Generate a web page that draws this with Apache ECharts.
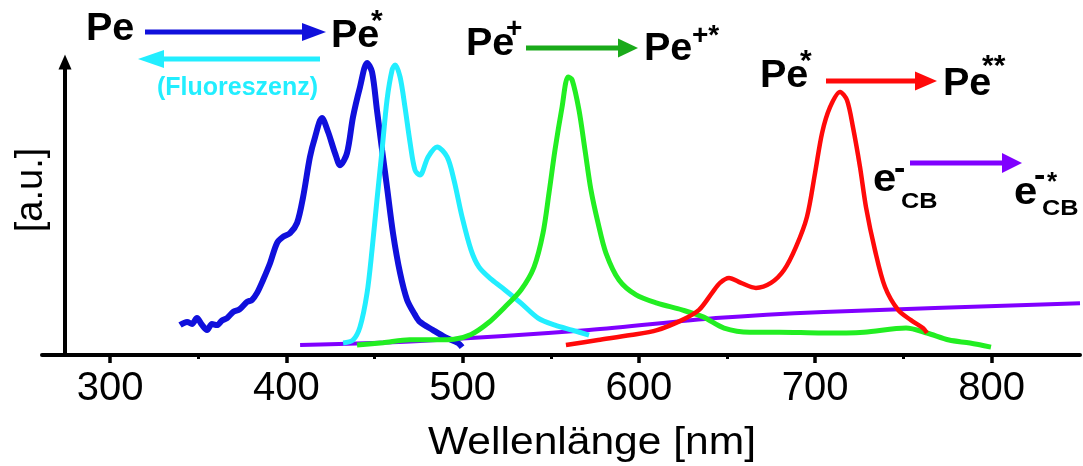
<!DOCTYPE html>
<html>
<head>
<meta charset="utf-8">
<script src="https://cdn.jsdelivr.net/npm/echarts@6/dist/echarts.min.js"></script>
<style>
html,body{margin:0;padding:0;background:#fff;}
#chart{width:1083px;height:466px;}
</style>
</head>
<body>
<div id="chart"></div>
<script>
// ---- data (wavelength nm, intensity a.u.) ----
const xTicks = [300, 400, 500, 600, 700, 800];
const xMinorTicks = [350, 450, 550, 650, 750];

const absPe = [
  [339.7,10.2],[343.7,11.3],[346.5,10.6],[349.3,12.6],[352.0,10.4],[355.0,8.5],[357.8,10.6],[360.7,10.2],
  [363.5,11.8],[366.4,12.6],[369.8,14.7],[373.5,15.6],
  [377.7,18.1],[380.5,18.8],[383.4,21.2],[386.8,25.6],[390.8,31.4],[394.7,38.2],[398.1,40.3],[402.1,41.6],
  [406.1,45.1],[409.5,53.9],[413.4,67.6],[416.3,74.4],[420.2,80.9],[423.7,76.1],[427.6,68.9],
  [430.5,64.8],[434.4,68.9],[437.8,81.2],[441.8,91.5],[445.8,99.7],[448.6,96.6],[451.4,83.6],
  [454.3,70.0],[457.1,57.3],[460.5,41.6],[464.5,28.0],[468.5,18.8],[473.0,13.7],[475.8,11.3],
  [483.2,8.5],[490.0,6.1],[497.4,4.1],[499.7,2.7]
];
const fluorPe = [
  [432.2,4.1],[437.8,5.1],[441.8,9.6],[445.8,21.2],[448.6,35.8],[451.4,52.9],[454.3,70.0],
  [457.1,87.0],[460.0,97.3],[461.7,99.0],[464.5,94.9],[467.3,84.6],[470.2,72.4],[473.0,63.1],
  [475.8,61.4],[480.4,67.6],[485.5,71.0],[491.2,67.6],[495.1,59.7],[499.7,47.1],[504.8,35.8],
  [509.3,30.0],[516.7,25.6],[524.0,22.2],[533.1,17.7],[542.8,12.6],[552.4,10.2],[562.1,8.5],
  [571.7,6.8]
];
const absPeCation = [
  [440.1,3.4],[454.9,4.2],[470.0,5.2],[485.5,5.2],[495.1,5.4],[504.8,7.0],[514.4,10.9],
  [524.0,16.4],[533.1,22.2],[540.5,30.0],[545.6,41.6],[549.0,55.3],[552.4,70.0],[556.4,84.6],
  [559.8,94.9],[562.1,93.9],[566.0,83.6],[569.4,70.0],[572.8,56.3],[576.8,45.1],[581.3,34.8],
  [588.7,25.6],[598.4,20.5],[610.3,17.7],[624.4,15.4],[636.4,13.0],[648.3,9.2],[663.0,7.8],
  [679.5,7.8],[703.9,7.5],[727.7,7.8],[751.5,9.2],[763.4,7.5],[775.9,5.1],[787.8,4.1],[799.7,2.7]
];
const absPeExcited = [
  [558.6,3.4],[576.8,5.1],[595.5,6.8],[610.3,8.5],[624.4,11.9],[634.1,15.4],[641.5,21.2],
  [646.0,24.6],[651.1,26.3],[657.9,24.6],[666.4,22.9],[674.9,24.6],[682.3,29.0],[689.1,36.9],
  [695.3,47.1],[699.9,62.1],[703.9,75.8],[708.4,84.6],[714.1,89.8],[718.0,87.0],[721.4,77.8],
  [725.4,64.2],[728.8,50.5],[733.9,35.8],[739.6,23.2],[747.0,15.4],[754.3,11.9],[761.1,9.2],
  [763.4,7.5]
];
const absElectron = [
  [407.8,3.4],[475.8,4.8],[571.7,8.5],[643.7,12.6],[704.9,14.7],[850.2,17.7]
];

const FONT = "'Liberation Sans', Arial, sans-serif";
const BLUE = '#1010dc', CYAN = '#22eeff', GREEN = '#22ee22', GREEN_ARROW = '#1aaa1a',
      RED = '#ff0a0a', PURPLE = '#8000ff';

function txt(text, x, y, size, color, opts) {
  opts = opts || {};
  return {
    type: 'text', x: x, y: y, z: 100,
    rotation: opts.rotation || 0,
    scaleX: opts.scaleX || 1,
    style: {
      text: text, fill: color || '#000',
      fontSize: size, fontWeight: opts.weight || 'bold', fontFamily: FONT,
      align: opts.align || 'left', textAlign: opts.align || 'left',
      verticalAlign: 'middle', textVerticalAlign: 'middle'
    }
  };
}
function arrow(x1, y, x2, headLen, headH, color, w) {
  const dir = x2 > x1 ? 1 : -1;
  const base = x2 - dir * headLen;
  return [
    {type: 'line', z: 100, shape: {x1: x1, y1: y, x2: base, y2: y}, style: {stroke: color, lineWidth: w}},
    {type: 'polygon', z: 100, shape: {points: [[base, y - headH / 2], [x2, y], [base, y + headH / 2]]}, style: {fill: color}}
  ];
}

const graphics = [].concat(
  [txt('[a.u.]', 32, 190, 38, '#000', {weight: 'normal', rotation: Math.PI / 2, align: 'center'})],
  [txt('Wellenlänge [nm]', 592, 444, 38, '#000', {weight: 'normal', align: 'center', scaleX: 1.12})],
  // Pe -> Pe*
  [txt('Pe', 86, 30, 38, '#000', {scaleX: 1.04})],
  arrow(145, 32, 326, 24, 18, BLUE, 5),
  [txt('Pe', 331, 37, 38, '#000', {scaleX: 1.04}), txt('*', 371, 22, 30)],
  arrow(320, 59, 138, 26, 18, CYAN, 5),
  [txt('(Fluoreszenz)', 157, 88, 25, CYAN)],
  // Pe+ -> Pe+*
  [txt('Pe', 466, 45, 38, '#000', {scaleX: 1.04}), txt('+', 506, 29, 28)],
  arrow(526, 48, 638, 20, 19, GREEN_ARROW, 5),
  [txt('Pe', 644, 50, 38, '#000', {scaleX: 1.04}), txt('+*', 692, 36, 28)],
  // Pe* -> Pe**
  [txt('Pe', 760, 77, 38, '#000', {scaleX: 1.04}), txt('*', 800, 62, 30)],
  arrow(826, 81, 937, 22, 19, RED, 5),
  [txt('Pe', 943, 85, 38, '#000', {scaleX: 1.04}), txt('**', 982, 67, 30)],
  // e-CB -> e-*CB
  arrow(910, 163, 1022, 20, 20, PURPLE, 5),
  [txt('e', 873, 181, 38, '#000', {scaleX: 1.1}), txt('-', 894, 170, 34),
   txt('CB', 901, 202, 22, '#000', {scaleX: 1.15})],
  [txt('e', 1014, 194, 38, '#000', {scaleX: 1.1}), txt('-', 1034, 177, 34), txt('*', 1047, 183, 26),
   txt('CB', 1042, 209, 22, '#000', {scaleX: 1.15})]
);

const chart = echarts.init(document.getElementById('chart'), null, {renderer: 'canvas'});
chart.setOption({
  animation: false,
  backgroundColor: '#fff',
  textStyle: {fontFamily: FONT},
  grid: {left: 42, right: 3, top: 62, bottom: 111, containLabel: false, outerBoundsMode: 'none'},
  xAxis: [{
    type: 'value', min: 261.4, max: 850.2, position: 'bottom',
    axisLine: {show: true, onZero: false, lineStyle: {color: '#000', width: 4}},
    axisTick: {show: true, customValues: xTicks, length: 8, lineStyle: {color: '#000', width: 3.5}},
    axisLabel: {show: true, customValues: xTicks, fontSize: 40, color: '#000', margin: 14, fontFamily: FONT},
    splitLine: {show: false}
  }, {
    type: 'value', min: 261.4, max: 850.2, position: 'bottom',
    axisLine: {show: false},
    axisTick: {show: true, customValues: xMinorTicks, length: 4, lineStyle: {color: '#000', width: 3}},
    axisLabel: {show: false},
    splitLine: {show: false}
  }],
  yAxis: {
    type: 'value', min: 0, max: 100, offset: -23,
    axisLine: {show: true, onZero: false, symbol: ['none', 'triangle'], symbolSize: [13, 15],
      lineStyle: {color: '#000', width: 4}},
    axisTick: {show: false}, axisLabel: {show: false}, splitLine: {show: false}
  },
  graphic: graphics,
  series: [
    {name: 'e- CB', type: 'line', data: absElectron, showSymbol: false, smooth: 0.3,
     lineStyle: {color: PURPLE, width: 4}, itemStyle: {color: PURPLE}, z: 1},
    {name: 'Pe', type: 'line', data: absPe, showSymbol: false, smooth: 0.3,
     lineStyle: {color: BLUE, width: 6}, itemStyle: {color: BLUE}, z: 2},
    {name: 'Fluoreszenz', type: 'line', data: fluorPe, showSymbol: false, smooth: 0.3,
     lineStyle: {color: CYAN, width: 5}, itemStyle: {color: CYAN}, z: 3},
    {name: 'Pe+', type: 'line', data: absPeCation, showSymbol: false, smooth: 0.3,
     lineStyle: {color: GREEN, width: 5}, itemStyle: {color: GREEN}, z: 4},
    {name: 'Pe*', type: 'line', data: absPeExcited, showSymbol: false, smooth: 0.3,
     lineStyle: {color: RED, width: 4.5}, itemStyle: {color: RED}, z: 5}
  ]
});
</script>
</body>
</html>
